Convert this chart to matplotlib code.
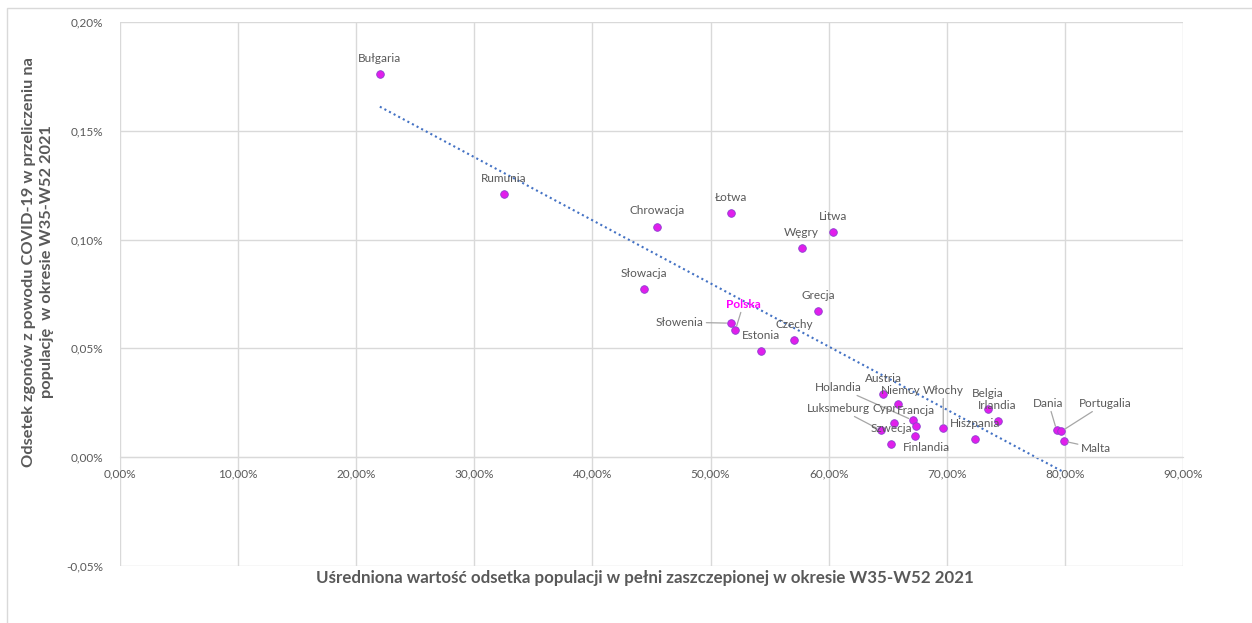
import numpy as np
import matplotlib
matplotlib.use('Agg')
import matplotlib.pyplot as plt
from matplotlib.patches import Rectangle
from matplotlib.ticker import FuncFormatter, MultipleLocator

# data: vaccination share (%) vs death share (%)
countries = ['Bułgaria', 'Rumunia', 'Chrowacja', 'Łotwa', 'Litwa', 'Węgry', 'Słowacja',
             'Grecja', 'Polska', 'Słowenia', 'Estonia', 'Czechy', 'Austria', 'Niemcy',
             'Holandia', 'Cypr', 'Francja', 'Luksmeburg', 'Szwecja', 'Finlandia', 'Włochy',
             'Hiszpania', 'Belgia', 'Irlandia', 'Dania', 'Portugalia', 'Malta']
vacc = [22.0, 32.5, 45.5, 51.7, 60.4, 57.7, 44.4,
        59.1, 52.1, 51.7, 54.3, 57.1, 64.6, 65.9,
        67.1, 65.5, 67.4, 64.4, 65.3, 67.3, 69.7,
        72.4, 73.5, 74.3, 79.3, 79.7, 79.9]
deaths = [0.1760, 0.1209, 0.1060, 0.1121, 0.1034, 0.0960, 0.0772,
          0.0671, 0.0584, 0.0616, 0.0487, 0.0538, 0.0290, 0.0244,
          0.0170, 0.0156, 0.0142, 0.0124, 0.0060, 0.0097, 0.0133,
          0.0083, 0.0221, 0.0165, 0.0124, 0.0119, 0.0074]

# label offsets in pixels (dx, dy) and whether to draw a leader line
label_pos = {
    'Polska': (8, 26, True), 'Słowenia': (-51, 1, True), 'Holandia': (-74, 33, True),
    'Luksmeburg': (-42, 22, True), 'Finlandia': (12, -11, False), 'Włochy': (0, 38, True),
    'Niemcy': (2, 14, False), 'Cypr': (-9, 15, False), 'Francja': (0, 16, False),
    'Dania': (-8, 27, True), 'Portugalia': (44, 28, True), 'Malta': (32, -7, True),
}

W, H = 1252, 623
fig = plt.figure(figsize=(W / 100, H / 100), dpi=100)
ax = fig.add_axes([120 / W, 1 - 566 / H, (1183 - 120) / W, (566 - 22) / H])

gray = '#595959'
grid = '#D9D9D9'
fnt = 'Lato'

ax.set_xlim(0, 90)
ax.set_ylim(-0.05, 0.20)
ax.xaxis.set_major_locator(MultipleLocator(10))
ax.yaxis.set_major_locator(MultipleLocator(0.05))
ax.xaxis.set_major_formatter(FuncFormatter(lambda v, p: f'{v:.2f}%'.replace('.', ',')))
ax.yaxis.set_major_formatter(FuncFormatter(lambda v, p: f'{v:.2f}%'.replace('.', ',').replace('-0,00', '0,00')))
ax.grid(True, color=grid, linewidth=1)
ax.set_axisbelow(True)
for s in ['top', 'right', 'left']:
    ax.spines[s].set_visible(False)
ax.spines['bottom'].set_position(('data', 0))
ax.spines['bottom'].set_color(grid)
ax.tick_params(length=0, colors=gray, labelsize=8.5)
ax.tick_params(axis='y', pad=12)
ax.tick_params(axis='x', pad=8)
for lab in ax.get_xticklabels() + ax.get_yticklabels():
    lab.set_family(fnt)

# linear trend
coef = np.polyfit(vacc, deaths, 1)
xs = np.array([min(vacc), max(vacc)])
ax.plot(xs, np.polyval(coef, xs), linestyle=(0, (1, 1.5)), color='#4472C4', linewidth=1.5, zorder=2)

ax.scatter(vacc, deaths, s=30, facecolor='#E11EEB', edgecolor='#8B3FD0', linewidth=0.6, zorder=3)

for name, x, y in zip(countries, vacc, deaths):
    dx, dy, line = label_pos.get(name, (0, 16, False))
    is_pl = name == 'Polska'
    ap = dict(arrowstyle='-', color='#A6A6A6', lw=0.9, shrinkA=0, shrinkB=3) if line else None
    ax.annotate(name, (x, y), xytext=(dx, dy), textcoords='offset pixels',
                ha='center', va='center', fontsize=8.5, family=fnt,
                color='#FF00FF' if is_pl else gray, fontweight='bold' if is_pl else 'normal',
                arrowprops=ap, zorder=4)

fig.text(645 / W, 1 - 578 / H,
         'Uśredniona wartość odsetka populacji w pełni zaszczepionej w okresie W35-W52 2021',
         ha='center', va='center', fontsize=12.2, fontweight='bold', color=gray, family=fnt)
fig.text(38 / W, 1 - 262 / H,
         'Odsetek zgonów z powodu COVID-19 w przeliczeniu na\npopulację  w okresie W35-W52 2021',
         ha='center', va='center', rotation=90, fontsize=11.8, fontweight='bold', color=gray,
         family=fnt, linespacing=1.3)

fig.patches.append(Rectangle((7 / W, -0.05), 1.1, 1 - 8 / H + 0.05, transform=fig.transFigure,
                             fill=False, edgecolor=grid, linewidth=1))

plt.savefig('out.png', dpi=100)
plt.close()
